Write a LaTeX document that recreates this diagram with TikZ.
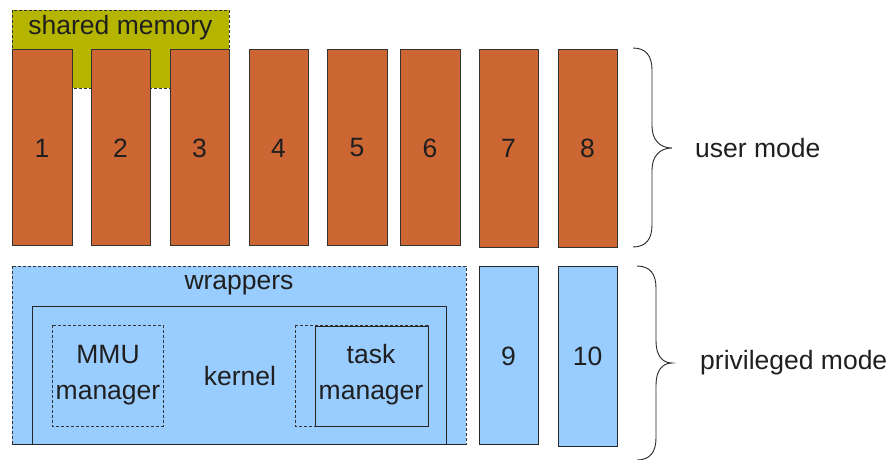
\documentclass[tikz,border=0pt]{standalone}
\usepackage{fontspec}
\setmainfont{Liberation Sans}
\begin{document}
\begin{tikzpicture}[x=1pt,y=-1pt,
  every node/.style={text=black!88, font=\fontsize{26.5}{36}\selectfont, inner sep=0pt},
  proc/.style={draw=black!80, line width=0.9pt, fill=procfill},
  priv/.style={draw=black!85, line width=0.9pt, fill=privfill},
  dashbox/.style={draw=black!80, line width=0.8pt, dash pattern=on 3pt off 2pt},
  brace/.style={draw=black!85, line width=0.9pt}]
\definecolor{procfill}{RGB}{204,102,51}
\definecolor{privfill}{RGB}{153,204,255}
\definecolor{shmfill}{RGB}{181,181,0}
\useasboundingbox (0,0) rectangle (893,459);

% shared memory region behind processes 1--3
\path[fill=shmfill, dashbox] (12,10) rectangle (229,88);
\node (shm) at (120.5,28) {shared memory};

% user-mode processes
\foreach \i/\l/\r/\b in {1/12/72/245, 2/91/150/245, 3/170/229/245, 4/249/308/245,
                         5/327/387/245, 6/400/460/245, 7/479/538/247, 8/558/617/247} {
  \draw[proc] (\l,49) rectangle (\r,\b);
  \node (p\i) at ({(\l+\r)/2},148) {\i};
}

% privileged-mode part
\path[fill=privfill, dashbox] (12,266) rectangle (466,444);
\node (wrap) at (239,285) {wrappers};
\draw[black!85, line width=0.9pt] (32,444) |- (446,306) -- (446,444);
\draw[black!85, line width=0.9pt] (12,444) -- (466,444);
\node (kern) at (240,376) {kernel};

\draw[dashbox] (52,325) rectangle (163,426);
\node[align=center] (mmu) at (108,375) {MMU\\manager};

\draw[dashbox] (295,325) rectangle (428,426);
\draw[black!85, line width=0.9pt] (315,326) rectangle (428,426);
\node[align=center] (task) at (371,375) {task\\manager};

\draw[priv] (479,266) rectangle (538,444);
\node (p9) at (508.5,356) {9};
\draw[priv] (558,266) rectangle (617,446);
\node (p10) at (587.5,356) {10};

% braces
\draw[brace] (633,48) .. controls (646,48) and (652,56) .. (652,70)
  -- (652,126) .. controls (652,140) and (660,148) .. (672,148)
  .. controls (660,148) and (652,156) .. (652,170)
  -- (652,225) .. controls (652,239) and (646,247) .. (633,247);
\draw[brace] (637,266) .. controls (650,266) and (656,274) .. (656,288)
  -- (656,341) .. controls (656,355) and (662,363) .. (672,363)
  .. controls (662,363) and (656,371) .. (656,385)
  -- (656,438) .. controls (656,452) and (650,460) .. (637,460);

\node[anchor=west] (um) at (695,148) {user mode};
\node[anchor=west] (pm) at (700,363) {privileged mode};
\end{tikzpicture}
\end{document}
